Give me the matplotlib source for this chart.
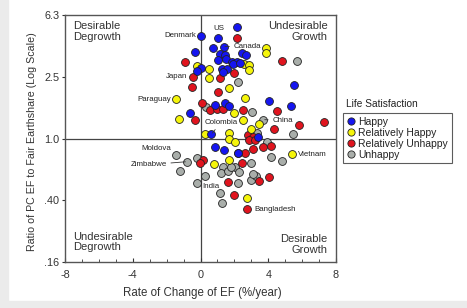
import matplotlib
matplotlib.use("Agg")
import matplotlib.pyplot as plt
from matplotlib.lines import Line2D
from matplotlib.patches import Rectangle

plt.rcParams['font.family'] = ['Liberation Sans', 'DejaVu Sans']

# ---- data (x: rate of change of EF %/yr, y: ratio PC EF / fair earthshare) ----
happy_x = [0.03, 2.17, 1.02, 1.36, 0.76, -0.35, 2.43, 2.66, 1.15, 1.45, 1.51, 1.84, 2.17, 1.94,
           0.03, -0.19, 1.25, 1.55, 1.35, 5.54, 4.03, 5.37, 0.86, 1.45, 1.70, -0.60, 0.64, 3.42,
           0.86, 1.36, 2.23, 2.36, 1.03]
happy_y = [4.64, 5.29, 4.49, 3.94, 3.84, 3.61, 3.56, 3.47, 3.51, 3.47, 3.26, 3.15, 3.11, 3.06,
           2.87, 2.75, 2.81, 2.82, 2.71, 2.22, 1.76, 1.62, 1.66, 1.69, 1.63, 1.47, 1.07, 1.02,
           0.88, 0.841, 0.805, 3.08, 3.22]

relhappy_x = [3.88, 3.88, -0.22, 0.53, 2.54, 2.85, 2.89, 0.52, 1.68, 2.61, -1.45, -1.25, 1.98,
              2.53, 3.47, 2.98, 1.70, 1.70, 0.28, 2.04, 0.77, 1.68, 5.38, 2.73]
relhappy_y = [3.87, 3.56, 2.93, 2.81, 3.02, 2.99, 2.76, 2.48, 2.12, 1.82, 1.80, 1.35, 1.46,
              1.33, 1.25, 1.15, 1.09, 0.995, 1.07, 0.956, 0.686, 0.728, 0.796, 0.414]

relunhappy_x = [2.14, -0.91, 4.84, -0.46, 1.15, 2.00, -0.48, 1.05, 0.06, 0.56, 0.96, 1.31, 2.53,
                4.53, -0.32, 5.83, 7.29, 4.35, 2.83, 3.12, 2.88, 3.22, 3.12, 3.71, 4.19, 2.60,
                0.12, -0.03, 2.45, 1.62, 1.95, 3.45, 4.06, 2.74, 2.21]
relunhappy_y = [4.45, 3.11, 3.18, 2.52, 2.48, 2.65, 2.16, 2.01, 1.69, 1.53, 1.55, 1.55, 1.53,
                1.52, 1.32, 1.23, 1.29, 1.16, 1.05, 1.03, 0.98, 0.975, 0.864, 0.884, 0.897, 0.812,
                0.734, 0.70, 0.693, 0.523, 0.436, 0.533, 0.568, 0.351, 0.812]

unhappy_x = [5.70, 2.23, 0.35, 3.02, 3.71, 3.35, 5.48, 3.91, 4.16, 4.79, -1.46, -0.81, -1.20,
             -0.18, -0.18, 3.01, 1.35, 2.04, 1.19, 2.29, 0.27, 1.61, 2.23, 1.15, 1.25, 2.98,
             3.28, 1.83, 3.12]
unhappy_y = [3.20, 2.33, 1.60, 1.48, 1.33, 1.09, 1.08, 0.956, 0.765, 0.718, 0.79, 0.711, 0.623,
             0.747, 0.517, 0.70, 0.659, 0.659, 0.598, 0.612, 0.574, 0.618, 0.515, 0.444, 0.386,
             0.545, 0.578, 0.659, 0.592]

# labelled countries: (name, series, index in that series)
label_names = ["Denmark", "US", "Canada", "Japan", "Paraguay", "Colombia", "China",
               "Moldova", "Zimbabwe", "India", "Vietnam", "Bangladesh"]
label_series = ["happy", "happy", "happy", "relunhappy", "relhappy", "happy", "unhappy",
                "unhappy", "unhappy", "unhappy", "relhappy", "relunhappy"]
label_index = [0, 2, 3, 3, 10, 26, 4, 10, 11, 14, 22, 33]

series_names = ["Happy", "Relatively Happy", "Relatively Unhappy", "Unhappy"]

x_ticks = [-8, -4, 0, 4, 8]
y_ticks = [0.16, 0.40, 1.0, 2.5, 6.3]
y_ticklabels = [".16", ".40", "1.0", "2.5", "6.3"]

colors = {"happy": "#1515f0", "relhappy": "#f5f50a", "relunhappy": "#e0141e", "unhappy": "#a9aeaa"}
series = {"happy": (happy_x, happy_y), "relhappy": (relhappy_x, relhappy_y),
          "relunhappy": (relunhappy_x, relunhappy_y), "unhappy": (unhappy_x, unhappy_y)}

fig = plt.figure(figsize=(4.67, 3.08), dpi=100)
fig.patch.set_facecolor("white")
# grey frame strips of the original picture
fig.patches.append(Rectangle((0, 0), 8/467, 1, transform=fig.transFigure, color="#ebebeb", zorder=0))
fig.patches.append(Rectangle((0, 0), 1, 7/308, transform=fig.transFigure, color="#ebebeb", zorder=0))

ax = fig.add_axes([65/467, 1-262/308, 271/467, 247/308])
ax.set_yscale("log")
ax.set_xlim(-8, 8)
ax.set_ylim(0.16, 6.3)

ax.axvline(0, color="#444444", lw=0.9, zorder=1)
ax.axhline(1.0, color="#444444", lw=0.9, zorder=1)

for key in ["unhappy", "relunhappy", "relhappy", "happy"]:
    xs, ys = series[key]
    ax.scatter(xs, ys, s=32, c=colors[key], edgecolors="#222222", linewidths=0.6, zorder=3)

offsets = {"Denmark": (-5, 0, "right", False), "US": (1, 9, "center", False),
           "Canada": (10, 0, "left", True), "Japan": (-5, 0, "right", False),
           "Paraguay": (-5, 0, "right", False), "Colombia": (10, 12, "center", True),
           "China": (9, -1, "left", True), "Moldova": (-5, 6, "right", False),
           "Zimbabwe": (-20, -3, "right", True), "India": (5, -3, "left", False),
           "Vietnam": (6, 0, "left", False), "Bangladesh": (7, 0, "left", False)}
for name, ser, idx in zip(label_names, label_series, label_index):
    px, py = series[ser][0][idx], series[ser][1][idx]
    dx, dy, ha, line = offsets[name]
    ap = dict(arrowstyle="-", lw=0.6, color="#333333", shrinkA=1, shrinkB=1) if line else None
    ax.annotate(name, xy=(px, py), xytext=(dx, dy), textcoords="offset pixels",
                ha=ha, va="center", fontsize=5.7, color="#222222", arrowprops=ap, zorder=4)

# quadrant captions
qfs = 8
ax.text(0.03, 0.975, "Desirable\nDegrowth", transform=ax.transAxes, ha="left", va="top",
        fontsize=qfs, color="#333333", linespacing=1.05)
ax.text(0.97, 0.975, "Undesirable\nGrowth", transform=ax.transAxes, ha="right", va="top",
        fontsize=qfs, color="#333333", linespacing=1.05, multialignment="right")
ax.text(0.03, 0.04, "Undesirable\nDegrowth", transform=ax.transAxes, ha="left", va="bottom",
        fontsize=qfs, color="#333333", linespacing=1.05)
ax.text(0.97, 0.03, "Desirable\nGrowth", transform=ax.transAxes, ha="right", va="bottom",
        fontsize=qfs, color="#333333", linespacing=1.05, multialignment="right")

ax.set_xticks(x_ticks)
ax.set_xticklabels([str(t) for t in x_ticks])
ax.set_xticks(range(-8, 9), minor=True)
ax.set_yticks(y_ticks)
ax.set_yticklabels(y_ticklabels)
ax.yaxis.set_minor_locator(matplotlib.ticker.NullLocator())
ax.tick_params(axis="x", which="major", direction="in", length=3, width=0.8, labelsize=7.8,
               colors="#333333", pad=6)
ax.tick_params(axis="x", which="minor", direction="in", length=2, width=0.6, colors="#333333")
ax.tick_params(axis="y", which="major", direction="out", length=2, width=0.8, labelsize=7.8,
               colors="#333333", pad=2)
for sp in ax.spines.values():
    sp.set_color("#555555")
    sp.set_linewidth(1.0)

fig.text(202/467, 1-293/308, "Rate of Change of EF (%/year)", ha="center", va="center",
         fontsize=8.3, color="#333333")
fig.text(32/467, 1-142/308, "Ratio of PC EF to Fair Earthshare (Log Scale)", ha="center",
         va="center", rotation=90, fontsize=7.7, color="#333333")

# legend
fig.text(346/467, 1-104/308, "Life Satisfaction", ha="left", va="center", fontsize=7.3,
         color="#222222")
handles = [Line2D([], [], marker="o", linestyle="none", markersize=5.2,
                  markerfacecolor=colors[k], markeredgecolor="#222222", markeredgewidth=0.6)
           for k in ["happy", "relhappy", "relunhappy", "unhappy"]]
leg = fig.legend(handles, series_names, loc="upper left", bbox_to_anchor=(343/467, 1-113/308),
                 bbox_transform=fig.transFigure, fontsize=7.5, frameon=True, fancybox=False,
                 borderpad=0.35, handletextpad=0.2, labelspacing=0.1, handlelength=0.9,
                 borderaxespad=0)
leg.get_frame().set_edgecolor("#333333")
leg.get_frame().set_linewidth(0.8)
for t in leg.get_texts():
    t.set_color("#222222")

fig.savefig("out.png", dpi=100)
